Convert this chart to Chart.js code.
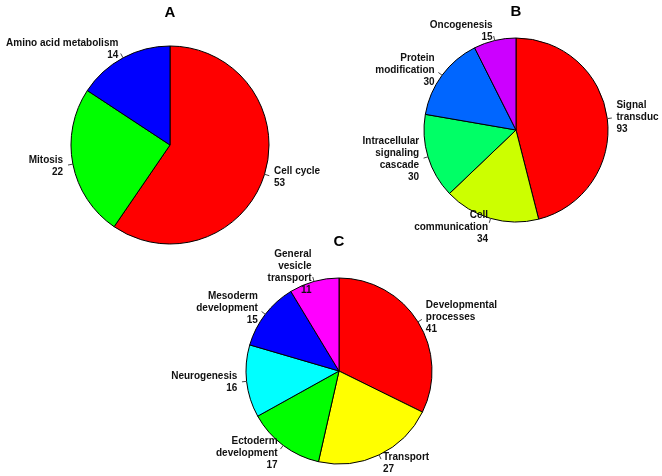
<!DOCTYPE html>
<html>
<head>
<meta charset="utf-8">
<script src="https://cdn.jsdelivr.net/npm/chart.js@4/dist/chart.umd.min.js"></script>
<style>
  html, body { margin: 0; padding: 0; background: #fff; }
  #wrap { position: relative; width: 662px; height: 476px; overflow: hidden; }
  #wrap canvas { position: absolute; left: 0; top: 0; }
</style>
</head>
<body>
<div id="wrap">
  <canvas id="pieA" width="662" height="476"></canvas>
  <canvas id="pieB" width="662" height="476"></canvas>
  <canvas id="pieC" width="662" height="476"></canvas>
</div>
<script>
// A
var labelsA = ["Cell cycle", "Mitosis", "Amino acid metabolism"];
var valuesA = [53, 22, 14];
var colorsA = ["#FF0000", "#00FF00", "#0000FF"];

// B
var labelsB = ["Signal\ntransduc", "Cell\ncommunication", "Intracellular\nsignaling\ncascade", "Protein\nmodification", "Oncogenesis"];
var valuesB = [93, 34, 30, 30, 15];
var colorsB = ["#FF0000", "#CCFF00", "#00FF66", "#0066FF", "#CC00FF"];

// C
var labelsC = ["Developmental\nprocesses", "Transport", "Ectoderm\ndevelopment", "Neurogenesis", "Mesoderm\ndevelopment", "General\nvesicle\ntransport"];
var valuesC = [41, 27, 17, 16, 15, 11];
var colorsC = ["#FF0000", "#FFFF00", "#00FF00", "#00FFFF", "#0000FF", "#FF00FF"];

// R-style pie labels: tick from r to 1.05r, text at 1.1r
var pieLabels = {
  id: 'pieLabels',
  afterDatasetsDraw: function(chart) {
    var ctx = chart.ctx;
    var meta = chart.getDatasetMeta(0);
    var vals = chart.data.datasets[0].data;
    ctx.save();
    ctx.font = "bold 10px 'Liberation Sans', Arial, sans-serif";
    ctx.fillStyle = "#111";
    ctx.strokeStyle = "#444";
    ctx.lineWidth = 1;
    ctx.textBaseline = "middle";
    meta.data.forEach(function(arc, i) {
      var p = arc.getProps(['x', 'y', 'startAngle', 'endAngle', 'outerRadius'], true);
      var mid = (p.startAngle + p.endAngle) / 2;
      var cx = Math.cos(mid), cy = Math.sin(mid);
      var r = p.outerRadius;
      ctx.beginPath();
      ctx.moveTo(p.x + cx * r, p.y + cy * r);
      ctx.lineTo(p.x + cx * r * 1.05, p.y + cy * r * 1.05);
      ctx.stroke();
      var tx = p.x + cx * r * 1.1, ty = p.y + cy * r * 1.1;
      var lines = chart.data.labels[i].split("\n").concat([String(vals[i])]);
      ctx.textAlign = cx >= 0 ? "left" : "right";
      var lh = 12;
      var y0 = ty - (lines.length - 1) * lh / 2;
      lines.forEach(function(t, k) {
        ctx.fillText(t, tx, y0 + k * lh);
      });
    });
    ctx.restore();
  }
};

function makePie(id, title, labels, values, colors, radius, pad, titlePad) {
  return new Chart(document.getElementById(id), {
    type: 'pie',
    data: {
      labels: labels,
      datasets: [{
        data: values,
        backgroundColor: colors,
        borderColor: '#000',
        borderWidth: 1,
        radius: radius
      }]
    },
    options: {
      responsive: false,
      animation: false,
      layout: { padding: pad },
      plugins: {
        legend: { display: false },
        tooltip: { enabled: false },
        title: {
          display: true,
          text: title,
          color: '#000',
          font: { family: "'Liberation Sans', Arial, sans-serif", size: 15, weight: 'bold' },
          padding: titlePad
        }
      }
    },
    plugins: [pieLabels]
  });
}

makePie('pieA', 'A', labelsA, valuesA, colorsA, 99,
  { left: 70, right: 392, top: 0, bottom: 231 }, { top: 3.5, bottom: 23.5 });
makePie('pieB', 'B', labelsB, valuesB, colorsB, 92,
  { left: 423.5, right: 53.5, top: 0, bottom: 253.5 }, { top: 3, bottom: 16.5 });
makePie('pieC', 'C', labelsC, valuesC, colorsC, 93,
  { left: 245.5, right: 229.5, top: 230, bottom: 11.5 }, { top: 2.5, bottom: 27 });
</script>
</body>
</html>
